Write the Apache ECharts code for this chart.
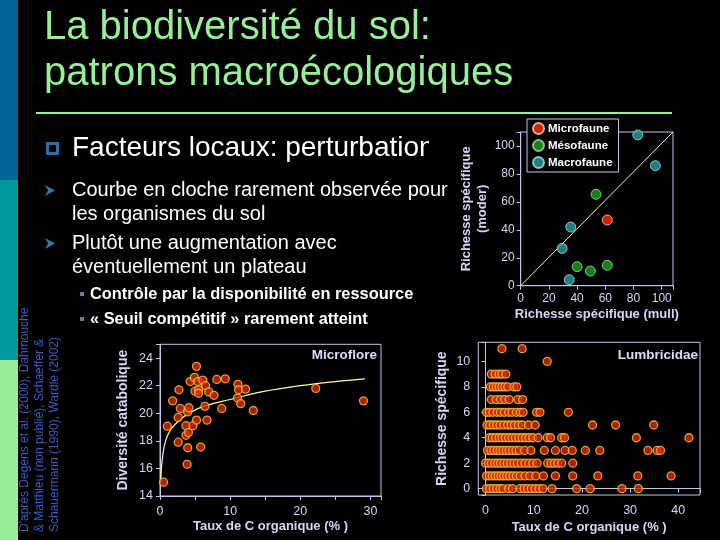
<!DOCTYPE html>
<html><head><meta charset="utf-8">
<script src="https://cdn.jsdelivr.net/npm/echarts@6/dist/echarts.min.js"></script>
<style>html,body{margin:0;padding:0;background:#000;}#c{width:720px;height:540px;}</style>
</head><body><div id="c"></div>
<script>
// ---------- Data: top-right chart (richesse mull vs moder) ----------
const faunaNames = ['Microfaune', 'Mésofaune', 'Macrofaune'];
const microfaune = [[61.4, 47]];
const mesofaune = [[53.4, 65.4], [40, 13.6], [49.4, 10.5], [61.4, 14.6]];
const macrofaune = [[83, 107.9], [95.5, 85.9], [35.5, 42], [29.4, 26.7], [34.4, 4.3]];
const diagonal = [[0, 0], [108, 110]];

// ---------- Data: bottom-left chart (Microflore) ----------
const microfloreC = [0.5,1.05,1.8,2.7,2.9,2.6,2.6,3.7,3.7,4.05,3.95,3.86,3.95,4.1,4.3,4.7,4.9,5.2,5.0,5.2,5.4,5.5,5.5,5.8,6.1,6.5,6.4,6.7,6.95,7.7,8.1,9.3,8.8,11.1,11.05,11.2,11.5,12.2,13.3,22.2,29.0];
const microfloreDiv = [15.0,19.06,20.9,21.7,20.35,19.7,17.9,19.1,18.4,18.6,17.5,16.3,20.1,20.4,22.3,19.1,22.6,23.4,21.6,19.5,22.3,21.7,21.45,17.55,22.4,22.0,20.5,19.5,21.55,21.3,22.45,22.5,20.35,22.1,21.1,21.7,20.7,21.75,20.2,21.8,20.9];
const fitC = [0.12,0.2,0.4,0.8,1.5,3,4.5,6.5,10,15,20,25,29.2];
const fitDiv = [15.0,16.0,17.0,18.0,18.8,19.6,20.1,20.55,21.0,21.6,22.0,22.3,22.5];

// ---------- Data: bottom-right chart (Lumbricidae), C values per richness ----------
const lumbRichness = [0,1,2,3,4,5,6,7,8,9,10,11];
const lumbC0 = [0.2,0.9,1.6,2.3,3.0,3.6,4.8,5.6,7.2,8.0,8.7,9.5,10.3,11.1,11.9,13.8,18.9,21.7,28.3,31.7];
const lumbC1 = [0.2,0.8,1.4,2.0,2.6,3.2,3.8,4.4,5.0,5.7,6.4,7.2,8.2,9.2,10.4,12.0,14.5,18.1,23.3,31.6,38.5];
const lumbC2 = [0.0,0.6,1.2,1.9,2.5,3.1,3.8,4.5,5.2,5.9,6.6,7.4,8.2,9.0,9.8,10.7,12.9,13.6,14.3,15.0,15.8,18.1];
const lumbC3 = [0.4,1.1,1.7,2.4,3.0,3.6,4.3,4.9,5.6,6.3,7.0,8.1,9.4,12.2,14.5,16.5,18.0,20.7,23.7,33.7,35.6,36.3];
const lumbC4 = [0.8,1.4,2.1,2.8,3.4,4.1,4.8,5.5,6.2,6.9,7.6,8.3,9.0,9.8,10.9,12.8,13.5,15.8,16.4,31.3,42.2];
const lumbC5 = [0.3,0.9,1.6,2.3,3.0,3.8,4.6,5.3,6.0,6.8,7.6,8.9,10.3,22.2,27.0,34.9];
const lumbC6 = [0.2,0.8,1.5,2.4,3.1,3.9,4.8,5.5,6.4,7.2,7.8,10.6,11.3,17.2];
const lumbC7 = [1.2,2.2,3.1,4.0,4.9,6.7,7.7];
const lumbC8 = [1.0,1.6,2.2,2.8,3.4,4.0,4.6,5.9,6.5];
const lumbC9 = [1.2,2.0,2.8,3.4,4.2];
const lumbC10 = [12.8];
const lumbC11 = [3.4,7.6];
const lumbRows = [lumbC0,lumbC1,lumbC2,lumbC3,lumbC4,lumbC5,lumbC6,lumbC7,lumbC8,lumbC9,lumbC10,lumbC11];

// ---------- Build ----------
const FONT = '"Liberation Sans", Arial, sans-serif';
const axisCol = '#c4c4ec';
const labCol = '#d6d6f6';
const microflorePts = microfloreC.map((c, i) => [c, microfloreDiv[i]]);
const fitPts = fitC.map((c, i) => [c, fitDiv[i]]);
const lumbPts = [];
lumbRows.forEach((row, i) => row.forEach(c => lumbPts.push([c, lumbRichness[i]])));

function mkAxis(gi, opt) {
  return Object.assign({
    gridIndex: gi, type: 'value',
    axisLine: {show: true, lineStyle: {color: axisCol, width: 1}},
    axisTick: {show: true, length: 4, lineStyle: {color: axisCol}},
    splitLine: {show: false},
    axisLabel: {color: labCol, fontSize: 12, fontFamily: FONT},
    nameLocation: 'middle',
    nameTextStyle: {color: labCol, fontSize: 13, fontWeight: 'bold', fontFamily: FONT}
  }, opt);
}
const stepFmt = step => v => (Math.abs(v / step - Math.round(v / step)) < 1e-6 ? String(v) : '');

const orangeDot = {color: '#d42a00', borderColor: '#ffc040', borderWidth: 1.3};

const option = {
  backgroundColor: '#000',
  animation: false,
  grid: [
    {left: 520.7, top: 132, width: 152.3, height: 153.7, show: true, borderColor: axisCol, borderWidth: 1, outerBoundsMode: 'none'},
    {left: 160, top: 344.3, width: 221, height: 151.7, show: true, borderColor: axisCol, borderWidth: 1, outerBoundsMode: 'none'},
    {left: 478.3, top: 342.3, width: 221.7, height: 152.7, show: true, borderColor: axisCol, borderWidth: 1, outerBoundsMode: 'none'}
  ],
  xAxis: [
    mkAxis(0, {min: 0, max: 108, interval: 20, name: 'Richesse spécifique (mull)', nameGap: 22,
      axisLabel: {color: labCol, fontSize: 12, fontFamily: FONT, margin: 7, formatter: stepFmt(20)}}),
    mkAxis(1, {min: 0, max: 31.5, interval: 5, name: 'Taux de C organique (% )', nameGap: 24,
      axisLabel: {color: labCol, fontSize: 12.5, fontFamily: FONT, margin: 9, formatter: stepFmt(10)}}),
    mkAxis(2, {min: -1.5, max: 44.5, splitNumber: 5, name: 'Taux de C organique (% )', nameGap: 26,
      axisLabel: {color: labCol, fontSize: 12.5, fontFamily: FONT, margin: 9, formatter: stepFmt(10)}})
  ],
  yAxis: [
    mkAxis(0, {min: 0, max: 110, interval: 20, name: 'Richesse spécifique\n(moder)', nameGap: 30,
      nameTextStyle: {color: labCol, fontSize: 13, fontWeight: 'bold', fontFamily: FONT, lineHeight: 16},
      axisLabel: {color: labCol, fontSize: 12, fontFamily: FONT, margin: 6, formatter: stepFmt(20)}}),
    mkAxis(1, {min: 14, max: 25, interval: 2, name: 'Diversité catabolique', nameGap: 30,
      nameTextStyle: {color: labCol, fontSize: 14, fontWeight: 'bold', fontFamily: FONT},
      axisLabel: {color: labCol, fontSize: 12.5, fontFamily: FONT, margin: 7, formatter: stepFmt(2)}}),
    mkAxis(2, {min: -0.5, max: 11.5, splitNumber: 6, name: 'Richesse spécifique', nameGap: 29,
      nameTextStyle: {color: labCol, fontSize: 14, fontWeight: 'bold', fontFamily: FONT},
      axisLabel: {color: labCol, fontSize: 12.5, fontFamily: FONT, margin: 8, formatter: stepFmt(2)}})
  ],
  legend: {
    data: faunaNames, orient: 'vertical', left: 527, top: 119,
    itemWidth: 11, itemHeight: 11, itemGap: 4, icon: 'circle',
    padding: [3, 6, 3, 5], borderColor: '#c8c8e8', borderWidth: 1, backgroundColor: '#000',
    textStyle: {color: '#ffffff', fontSize: 11.5, fontWeight: 'bold', fontFamily: FONT, padding: [0, 0, 0, -1]}
  },
  series: [
    {type: 'line', name: 'diag', xAxisIndex: 0, yAxisIndex: 0, data: diagonal, symbol: 'none',
      lineStyle: {color: '#f4f4b0', width: 1}, silent: true, z: 1},
    {type: 'scatter', name: faunaNames[0], xAxisIndex: 0, yAxisIndex: 0, data: microfaune, symbolSize: 10,
      itemStyle: {color: '#ff2a00', borderColor: '#ffd0c0', borderWidth: 1}, z: 3},
    {type: 'scatter', name: faunaNames[1], xAxisIndex: 0, yAxisIndex: 0, data: mesofaune, symbolSize: 10,
      itemStyle: {color: '#1f9f1f', borderColor: '#a0e0a0', borderWidth: 1}, z: 3},
    {type: 'scatter', name: faunaNames[2], xAxisIndex: 0, yAxisIndex: 0, data: macrofaune, symbolSize: 10,
      itemStyle: {color: '#2aa0a0', borderColor: '#a8e0e0', borderWidth: 1}, z: 3},
    {type: 'line', name: 'fit', xAxisIndex: 1, yAxisIndex: 1, data: fitPts, symbol: 'none', smooth: 0.4,
      lineStyle: {color: '#ffff99', width: 1.2}, silent: true, z: 1},
    {type: 'scatter', name: 'Microflore', xAxisIndex: 1, yAxisIndex: 1, data: microflorePts, symbolSize: 8,
      itemStyle: orangeDot, z: 3},
    {type: 'scatter', name: 'Lumbricidae', xAxisIndex: 2, yAxisIndex: 2, data: lumbPts, symbolSize: 8,
      itemStyle: orangeDot, z: 3}
  ],
  graphic: [
    {type: 'rect', shape: {x: 0, y: 0, width: 18, height: 180}, style: {fill: '#006699'}},
    {type: 'rect', shape: {x: 0, y: 180, width: 18, height: 180}, style: {fill: '#009a9a'}},
    {type: 'rect', shape: {x: 0, y: 360, width: 18, height: 180}, style: {fill: '#99ee99'}},
    {type: 'text', x: 44, y: 28, style: {text: 'La biodiversité du sol:', fill: '#99ee99', fontSize: 40, fontFamily: FONT, align: 'left', verticalAlign: 'middle'}},
    {type: 'text', x: 44, y: 74, style: {text: 'patrons macroécologiques', fill: '#99ee99', fontSize: 40, fontFamily: FONT, align: 'left', verticalAlign: 'middle'}},
    {type: 'line', shape: {x1: 36, y1: 113, x2: 672, y2: 113}, style: {stroke: '#99ee99', lineWidth: 2}},
    {type: 'rect', shape: {x: 47.5, y: 143.5, width: 10, height: 10}, style: {fill: 'none', stroke: '#2a6fa0', lineWidth: 3}},
    {type: 'text', x: 72, y: 148, style: {text: 'Facteurs locaux: perturbation', fill: '#ffffff', fontSize: 28, fontFamily: FONT, align: 'left', verticalAlign: 'middle'}},
    {type: 'rect', shape: {x: 429, y: 128, width: 30, height: 40}, style: {fill: '#000'}, z: 10},
    {type: 'polygon', shape: {points: [[45, 185], [55, 190.5], [45, 196], [48, 190.5]]}, style: {fill: '#2f78a8'}},
    {type: 'polygon', shape: {points: [[45, 238], [55, 243.5], [45, 249], [48, 243.5]]}, style: {fill: '#2f78a8'}},
    {type: 'text', x: 72, y: 190, style: {text: 'Courbe en cloche rarement observée pour', fill: '#ffffff', fontSize: 20, fontFamily: FONT, align: 'left', verticalAlign: 'middle'}},
    {type: 'text', x: 72, y: 214, style: {text: 'les organismes du sol', fill: '#ffffff', fontSize: 20, fontFamily: FONT, align: 'left', verticalAlign: 'middle'}},
    {type: 'text', x: 72, y: 243, style: {text: 'Plutôt une augmentation avec', fill: '#ffffff', fontSize: 20, fontFamily: FONT, align: 'left', verticalAlign: 'middle'}},
    {type: 'text', x: 72, y: 267, style: {text: 'éventuellement un plateau', fill: '#ffffff', fontSize: 20, fontFamily: FONT, align: 'left', verticalAlign: 'middle'}},
    {type: 'rect', shape: {x: 80, y: 292, width: 4, height: 4}, style: {fill: '#6a7c98'}},
    {type: 'rect', shape: {x: 80, y: 317, width: 4, height: 4}, style: {fill: '#6a7c98'}},
    {type: 'text', x: 90, y: 294, style: {text: 'Contrôle par la disponibilité en ressource', fill: '#ffffff', fontSize: 16.4, fontWeight: 'bold', fontFamily: FONT, align: 'left', verticalAlign: 'middle'}},
    {type: 'text', x: 90, y: 319, style: {text: '« Seuil compétitif » rarement atteint', fill: '#ffffff', fontSize: 16.4, fontWeight: 'bold', fontFamily: FONT, align: 'left', verticalAlign: 'middle'}},
    {type: 'text', x: 25, y: 532, rotation: Math.PI / 2, style: {text: "D'après Degens et al. (2000), Dahmouche", fill: '#3a5cc8', fontSize: 12, fontFamily: FONT, align: 'left', verticalAlign: 'middle'}},
    {type: 'text', x: 40, y: 532, rotation: Math.PI / 2, style: {text: '& Matthieu (non publié), Schaeffer &', fill: '#3a5cc8', fontSize: 12, fontFamily: FONT, align: 'left', verticalAlign: 'middle'}},
    {type: 'text', x: 55, y: 532, rotation: Math.PI / 2, style: {text: 'Schauermann (1990), Wardle (2002)', fill: '#3a5cc8', fontSize: 12, fontFamily: FONT, align: 'left', verticalAlign: 'middle'}},
    {type: 'text', x: 377, y: 355, style: {text: 'Microflore', fill: '#dcdcfc', fontSize: 13.5, fontWeight: 'bold', fontFamily: FONT, align: 'right', verticalAlign: 'middle'}, z: 20},
    {type: 'text', x: 698, y: 355, style: {text: 'Lumbricidae', fill: '#dcdcfc', fontSize: 13.5, fontWeight: 'bold', fontFamily: FONT, align: 'right', verticalAlign: 'middle'}, z: 20}
  ]
};
const chart = echarts.init(document.getElementById('c'), null, {renderer: 'canvas'});
chart.setOption(option);
</script>
</body></html>
